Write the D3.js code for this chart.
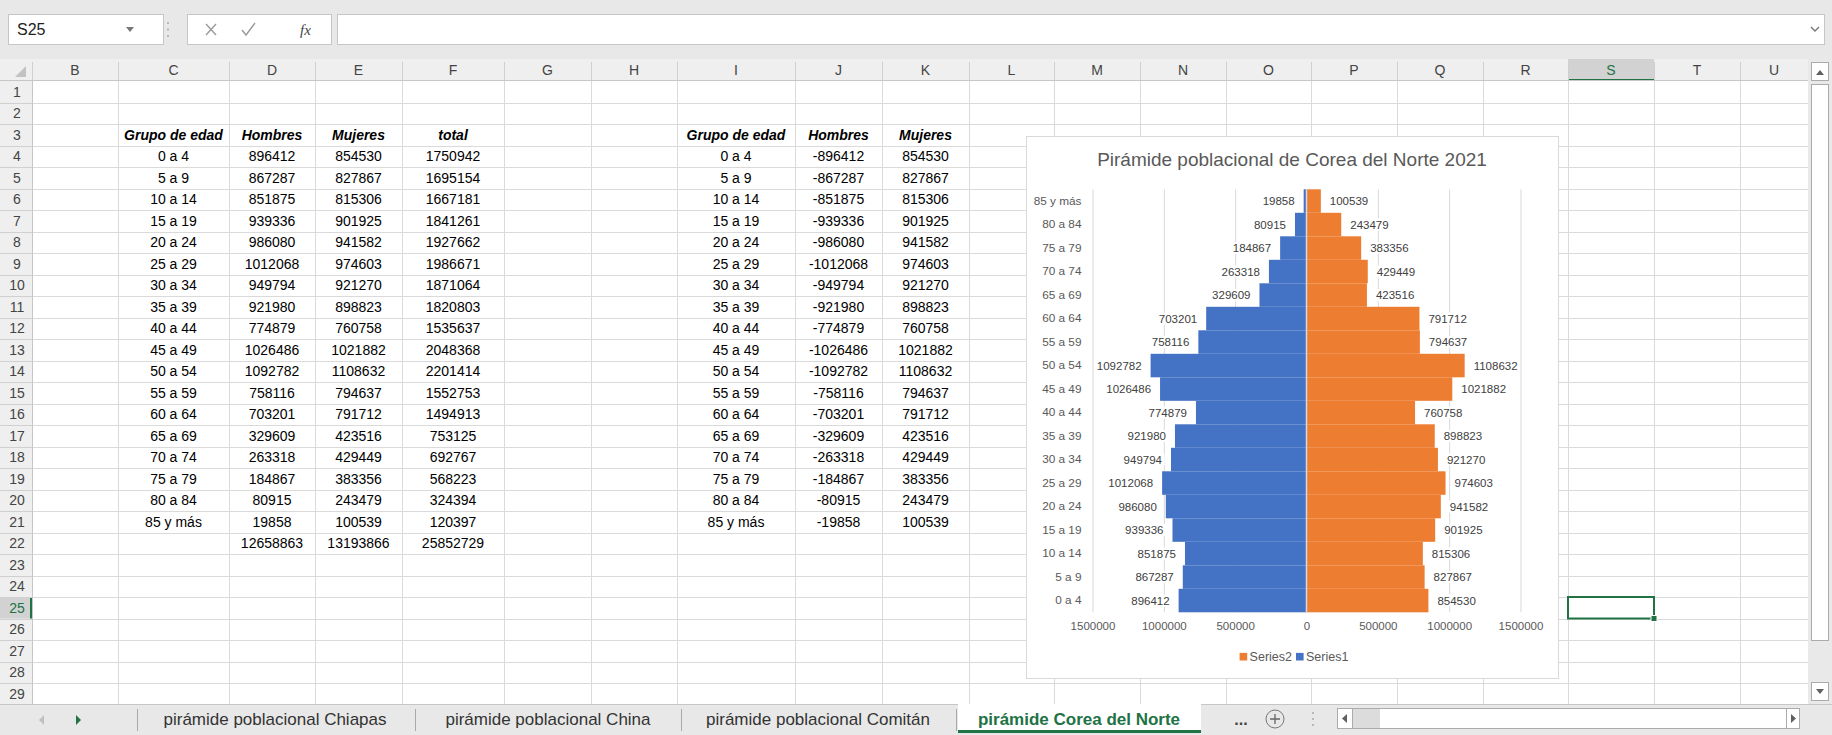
<!DOCTYPE html>
<html>
<head>
<meta charset="utf-8">
<script src="https://cdn.jsdelivr.net/npm/d3@7"></script>
<style>
  html, body { margin: 0; padding: 0; background: #fff; overflow: hidden; }
  svg { display: block; font-family: 'Liberation Sans', Arial, sans-serif; }
</style>
</head>
<body>
<svg id="hoja" width="1832" height="735"></svg>
<script>
// ---- datos ----
const grupos = ['0 a 4', '5 a 9', '10 a 14', '15 a 19', '20 a 24', '25 a 29', '30 a 34', '35 a 39', '40 a 44',
  '45 a 49', '50 a 54', '55 a 59', '60 a 64', '65 a 69', '70 a 74', '75 a 79', '80 a 84', '85 y más'];
const hombres = [896412, 867287, 851875, 939336, 986080, 1012068, 949794, 921980, 774879,
  1026486, 1092782, 758116, 703201, 329609, 263318, 184867, 80915, 19858];
const mujeres = [854530, 827867, 815306, 901925, 941582, 974603, 921270, 898823, 760758,
  1021882, 1108632, 794637, 791712, 423516, 429449, 383356, 243479, 100539];
const totales = [1750942, 1695154, 1667181, 1841261, 1927662, 1986671, 1871064, 1820803, 1535637,
  2048368, 2201414, 1552753, 1494913, 753125, 692767, 568223, 324394, 120397];
const sumas = [12658863, 13193866, 25852729];
const encabezados1 = ['Grupo de edad', 'Hombres', 'Mujeres', 'total'];
const encabezados2 = ['Grupo de edad', 'Hombres', 'Mujeres'];
const ejeTicks = [-1500000, -1000000, -500000, 0, 500000, 1000000, 1500000];
const nombresSeries = ['Series2', 'Series1'];
const hojas = ['pirámide poblacional Chiapas', 'pirámide poblacional China', 'pirámide poblacional Comitán', 'pirámide Corea del Norte'];
const titulo = 'Pirámide poblacional de Corea del Norte 2021';

// ---- layout de la hoja ----
const letras = ['B','C','D','E','F','G','H','I','J','K','L','M','N','O','P','Q','R','S','T','U'];
const bordes = [32,118,229,315,402,504,591,677,795,882,969,1054,1140,1226,1311,1397,1483,1568,1654,1740,1808];
const filaTop = 81, filaH = 21.5, nFilas = 29, gridFin = 704;
const verde = '#217346';

const svg = d3.select('#hoja');
svg.append('rect').attr('width', 1832).attr('height', 735).attr('fill', '#fff');

const filaY = n => filaTop + (n - 1) * filaH;
const colX = l => { const i = letras.indexOf(l); return [bordes[i], bordes[i + 1]]; };
const colC = l => { const [a, b] = colX(l); return (a + b) / 2; };

// cuadricula
const grid = svg.append('g').attr('stroke', '#dadada').attr('stroke-width', 1);
for (let n = 1; n <= nFilas; n++) {
  grid.append('line').attr('x1', 32).attr('x2', 1808)
    .attr('y1', Math.round(filaY(n + 1)) + 0.5).attr('y2', Math.round(filaY(n + 1)) + 0.5);
}
bordes.slice(1).forEach(x => {
  grid.append('line').attr('x1', x + 0.5).attr('x2', x + 0.5).attr('y1', filaTop).attr('y2', gridFin);
});

// encabezado de columnas
svg.append('rect').attr('x', 0).attr('y', 59).attr('width', 1808).attr('height', 22).attr('fill', '#efefef');
svg.append('rect').attr('x', colX('S')[0]).attr('y', 59).attr('width', colX('S')[1] - colX('S')[0]).attr('height', 22).attr('fill', '#d2d2d2');
svg.append('rect').attr('x', colX('S')[0]).attr('y', 79).attr('width', colX('S')[1] - colX('S')[0]).attr('height', 2).attr('fill', verde);
svg.append('line').attr('x1', 0).attr('x2', 1808).attr('y1', 80.5).attr('y2', 80.5).attr('stroke', '#c6c6c6');
bordes.forEach(x => svg.append('line').attr('x1', x + 0.5).attr('x2', x + 0.5).attr('y1', 62).attr('y2', 80).attr('stroke', '#cfcfcf'));
svg.append('g').selectAll('text').data(letras).join('text')
  .attr('x', d => colC(d)).attr('y', 70).attr('dy', '0.36em').attr('text-anchor', 'middle')
  .attr('font-size', 14).attr('fill', d => d === 'S' ? verde : '#444').text(d => d);
svg.append('path').attr('d', 'M26,66 L26,77 L15,77 Z').attr('fill', '#c2c2c2');

// encabezado de filas
svg.append('rect').attr('x', 0).attr('y', filaTop).attr('width', 32).attr('height', gridFin - filaTop).attr('fill', '#efefef');
svg.append('rect').attr('x', 0).attr('y', filaY(25)).attr('width', 32).attr('height', filaH).attr('fill', '#d2d2d2');
svg.append('line').attr('x1', 32.5).attr('x2', 32.5).attr('y1', filaTop).attr('y2', gridFin).attr('stroke', '#c6c6c6');
svg.append('rect').attr('x', 30).attr('y', filaY(25)).attr('width', 2).attr('height', filaH).attr('fill', verde);
const filasHdr = svg.append('g');
for (let n = 1; n <= nFilas; n++) {
  filasHdr.append('line').attr('x1', 0).attr('x2', 32).attr('y1', Math.round(filaY(n + 1)) + 0.5).attr('y2', Math.round(filaY(n + 1)) + 0.5).attr('stroke', '#d0d0d0');
  filasHdr.append('text').attr('x', 17).attr('y', filaY(n) + filaH / 2).attr('dy', '0.36em')
    .attr('text-anchor', 'middle').attr('font-size', 14).attr('fill', n === 25 ? verde : '#444').text(n);
}

// celdas
const celdas = svg.append('g').attr('font-size', 14).attr('fill', '#000').attr('text-anchor', 'middle');
function celda(col, fila, txt, estilo) {
  const t = celdas.append('text').attr('x', colC(col)).attr('y', filaY(fila) + filaH / 2).attr('dy', '0.36em').text(txt);
  if (estilo) t.attr('font-weight', 'bold').attr('font-style', 'italic');
}
['C','D','E','F'].forEach((c, i) => celda(c, 3, encabezados1[i], true));
['I','J','K'].forEach((c, i) => celda(c, 3, encabezados2[i], true));
grupos.forEach((g, i) => {
  celda('C', 4 + i, g); celda('D', 4 + i, hombres[i]); celda('E', 4 + i, mujeres[i]); celda('F', 4 + i, totales[i]);
  celda('I', 4 + i, g); celda('J', 4 + i, -hombres[i]); celda('K', 4 + i, mujeres[i]);
});
['D','E','F'].forEach((c, i) => celda(c, 22, sumas[i]));

// ---- grafico ----
const caja = { x: 1026, y: 136, w: 532, h: 542 };
const chart = svg.append('g');
chart.append('rect').attr('x', caja.x + 0.5).attr('y', caja.y + 0.5).attr('width', caja.w).attr('height', caja.h)
  .attr('fill', '#fff').attr('stroke', '#d9d9d9');
chart.append('text').attr('x', caja.x + caja.w / 2).attr('y', 159.5).attr('dy', '0.35em')
  .attr('text-anchor', 'middle').attr('font-size', 19).attr('fill', '#595959').text(titulo);

const plot = { top: 189.3, bottom: 612.3, left: 1092.5, right: 1520.5 };
const x = d3.scaleLinear().domain([-1500000, 1500000]).range([plot.left, plot.right]);
const y = d3.scaleBand().domain(grupos.slice().reverse()).range([plot.top, plot.bottom]).padding(0);
const fmt = d3.format('d');

// lineas de division
chart.append('g').attr('transform', `translate(0,${plot.bottom})`)
  .call(d3.axisBottom(x).tickValues(ejeTicks).tickSize(-(plot.bottom - plot.top)).tickFormat(''))
  .call(g => g.select('.domain').remove())
  .call(g => g.selectAll('line').attr('stroke', '#d9d9d9'));

// barras
chart.append('g').selectAll('rect').data(grupos).join('rect')
  .attr('x', (d, i) => x(-hombres[i])).attr('y', d => y(d))
  .attr('width', (d, i) => x(0) - x(-hombres[i])).attr('height', y.bandwidth())
  .attr('fill', '#4472c4');
chart.append('g').selectAll('rect').data(grupos).join('rect')
  .attr('x', x(0)).attr('y', d => y(d))
  .attr('width', (d, i) => x(mujeres[i]) - x(0)).attr('height', y.bandwidth())
  .attr('fill', '#ed7d31');

// eje vertical en 0
chart.append('line').attr('x1', x(0)).attr('x2', x(0)).attr('y1', plot.top).attr('y2', plot.bottom)
  .attr('stroke', '#d9d9d9').attr('stroke-width', 1.5);

// etiquetas de datos
function etiqueta(g, tx, ty, txt, anchor) {
  const t = g.append('text').attr('x', tx).attr('y', ty).attr('dy', '0.35em').attr('text-anchor', anchor)
    .attr('font-size', 11.5).attr('fill', '#404040').text(txt);
  const b = t.node().getBBox();
  g.insert('rect', 'text').attr('x', b.x - 2).attr('y', b.y).attr('width', b.width + 4).attr('height', b.height).attr('fill', '#fff');
}
const etq = chart.append('g');
grupos.forEach((d, i) => {
  const cy = y(d) + y.bandwidth() / 2;
  etiqueta(etq.append('g'), x(-hombres[i]) - 9, cy, fmt(hombres[i]), 'end');
  etiqueta(etq.append('g'), x(mujeres[i]) + 9, cy, fmt(mujeres[i]), 'start');
});

// eje de categorias
chart.append('g').attr('transform', `translate(${plot.left - 11},0)`)
  .call(d3.axisLeft(y).tickSize(0).tickPadding(0))
  .call(g => g.select('.domain').remove())
  .call(g => g.selectAll('text').attr('font-size', 11.8).attr('fill', '#595959').attr('font-family', null));

// eje horizontal
chart.append('g').attr('transform', `translate(0,${plot.bottom})`)
  .call(d3.axisBottom(x).tickValues(ejeTicks).tickSize(0).tickPadding(10).tickFormat(v => fmt(Math.abs(v))))
  .call(g => g.select('.domain').remove())
  .call(g => g.selectAll('text').attr('font-size', 11.5).attr('fill', '#595959').attr('font-family', null));

// leyenda
const colores = { Series2: '#ed7d31', Series1: '#4472c4' };
const ley = chart.append('g');
let lx = 0;
nombresSeries.forEach(s => {
  ley.append('rect').attr('x', lx).attr('y', -3.8).attr('width', 7.6).attr('height', 7.6).attr('fill', colores[s]);
  const t = ley.append('text').attr('x', lx + 10).attr('y', 0).attr('dy', '0.35em').attr('font-size', 12.5).attr('fill', '#595959').text(s);
  lx += 10 + t.node().getComputedTextLength() + 4;
});
ley.attr('transform', `translate(${1294 - (lx - 4) / 2},656.7)`);

// celda seleccionada S25
const [sx0, sx1] = colX('S');
svg.append('rect').attr('x', sx0).attr('y', filaY(25)).attr('width', sx1 - sx0).attr('height', filaH)
  .attr('fill', 'none').attr('stroke', verde).attr('stroke-width', 2);
svg.append('rect').attr('x', sx1 - 3).attr('y', filaY(26) - 3).attr('width', 6).attr('height', 6)
  .attr('fill', verde).attr('stroke', '#fff').attr('stroke-width', 1);

// barra de desplazamiento vertical
const sb = svg.append('g');
sb.append('rect').attr('x', 1808).attr('y', 59).attr('width', 24).attr('height', gridFin - 59).attr('fill', '#e9e9e9');
sb.append('rect').attr('x', 1811.5).attr('y', 62.5).attr('width', 17).attr('height', 18).attr('fill', '#fff').attr('stroke', '#ababab');
sb.append('path').attr('d', 'M1816,75 L1820,70 L1824,75 Z').attr('fill', '#606060');
sb.append('rect').attr('x', 1811.5).attr('y', 84.5).attr('width', 17).attr('height', 556).attr('fill', '#fff').attr('stroke', '#ababab');
sb.append('rect').attr('x', 1811.5).attr('y', 682.5).attr('width', 17).attr('height', 18).attr('fill', '#fff').attr('stroke', '#ababab');
sb.append('path').attr('d', 'M1816,689 L1820,694 L1824,689 Z').attr('fill', '#606060');

// barra de formulas
const tb = svg.append('g');
tb.append('rect').attr('width', 1832).attr('height', 59).attr('fill', '#e8e8e8');
tb.append('rect').attr('x', 8.5).attr('y', 14.5).attr('width', 155).attr('height', 30).attr('fill', '#fff').attr('stroke', '#c6c6c6');
tb.append('text').attr('x', 17).attr('y', 29.5).attr('dy', '0.36em').attr('font-size', 16).attr('fill', '#222').text('S25');
tb.append('path').attr('d', 'M126,27 L134,27 L130,32 Z').attr('fill', '#777');
[23, 29.5, 36].forEach(cy => tb.append('circle').attr('cx', 168).attr('cy', cy).attr('r', 1).attr('fill', '#aaa'));
tb.append('rect').attr('x', 187.5).attr('y', 14.5).attr('width', 144).attr('height', 30).attr('fill', '#fff').attr('stroke', '#c6c6c6');
tb.append('path').attr('d', 'M206,24 L216,35 M216,24 L206,35').attr('stroke', '#9a9a9a').attr('stroke-width', 1.4);
tb.append('path').attr('d', 'M242,30 L246,35 L255,23').attr('stroke', '#9a9a9a').attr('stroke-width', 1.4).attr('fill', 'none');
tb.append('text').attr('x', 300).attr('y', 29.5).attr('dy', '0.36em').attr('font-size', 15).attr('font-style', 'italic')
  .attr('font-family', "'Liberation Serif', serif").attr('fill', '#444').text('fx');
tb.append('rect').attr('x', 337.5).attr('y', 14.5).attr('width', 1487).attr('height', 30).attr('fill', '#fff').attr('stroke', '#c6c6c6');
tb.append('path').attr('d', 'M1811,27 L1815,31 L1819,27').attr('stroke', '#777').attr('stroke-width', 1.4).attr('fill', 'none');

// pestañas
const tabs = svg.append('g');
tabs.append('rect').attr('y', 704).attr('width', 1832).attr('height', 31).attr('fill', '#e8e8e8');
tabs.append('line').attr('x1', 0).attr('x2', 1832).attr('y1', 704.5).attr('y2', 704.5).attr('stroke', '#c6c6c6');
tabs.append('path').attr('d', 'M44,715 L39,720 L44,725 Z').attr('fill', '#c0c0c0');
tabs.append('path').attr('d', 'M76,715 L81,720 L76,725 Z').attr('fill', '#217346');
tabs.append('rect').attr('x', 958).attr('y', 704).attr('width', 243).attr('height', 28).attr('fill', '#fff');
tabs.append('rect').attr('x', 958).attr('y', 730).attr('width', 243).attr('height', 3).attr('fill', verde);
[137, 415, 681, 956].forEach(sx => tabs.append('line').attr('x1', sx + 0.5).attr('x2', sx + 0.5).attr('y1', 709).attr('y2', 731).attr('stroke', '#a9a9a9'));
const centrosTab = [275, 548, 818, 1079];
hojas.forEach((h, i) => {
  const activo = i === hojas.length - 1;
  tabs.append('text').attr('x', centrosTab[i]).attr('y', 719).attr('dy', '0.36em').attr('text-anchor', 'middle')
    .attr('font-size', 17).attr('font-weight', activo ? 'bold' : 'normal')
    .attr('fill', activo ? verde : '#333').text(h);
});
tabs.append('text').attr('x', 1241).attr('y', 719).attr('dy', '0.36em').attr('text-anchor', 'middle').attr('font-size', 16).attr('font-weight', 'bold').attr('fill', '#444').text('...');
tabs.append('circle').attr('cx', 1275).attr('cy', 719).attr('r', 9).attr('fill', 'none').attr('stroke', '#777');
tabs.append('path').attr('d', 'M1270,719 L1280,719 M1275,714 L1275,724').attr('stroke', '#666').attr('stroke-width', 1.3);
[713, 719, 725].forEach(cy => tabs.append('circle').attr('cx', 1313).attr('cy', cy).attr('r', 1).attr('fill', '#aaa'));
tabs.append('rect').attr('x', 1337.5).attr('y', 708.5).attr('width', 462).attr('height', 20).attr('fill', '#fff').attr('stroke', '#ababab');
tabs.append('rect').attr('x', 1352).attr('y', 709).attr('width', 28).attr('height', 19).attr('fill', '#dcdcdc');
tabs.append('line').attr('x1', 1352.5).attr('x2', 1352.5).attr('y1', 709).attr('y2', 728).attr('stroke', '#ababab');
tabs.append('line').attr('x1', 1786.5).attr('x2', 1786.5).attr('y1', 709).attr('y2', 728).attr('stroke', '#ababab');
tabs.append('path').attr('d', 'M1347,714 L1342,718.5 L1347,723 Z').attr('fill', '#606060');
tabs.append('path').attr('d', 'M1791,714 L1796,718.5 L1791,723 Z').attr('fill', '#606060');
</script>
</body>
</html>
